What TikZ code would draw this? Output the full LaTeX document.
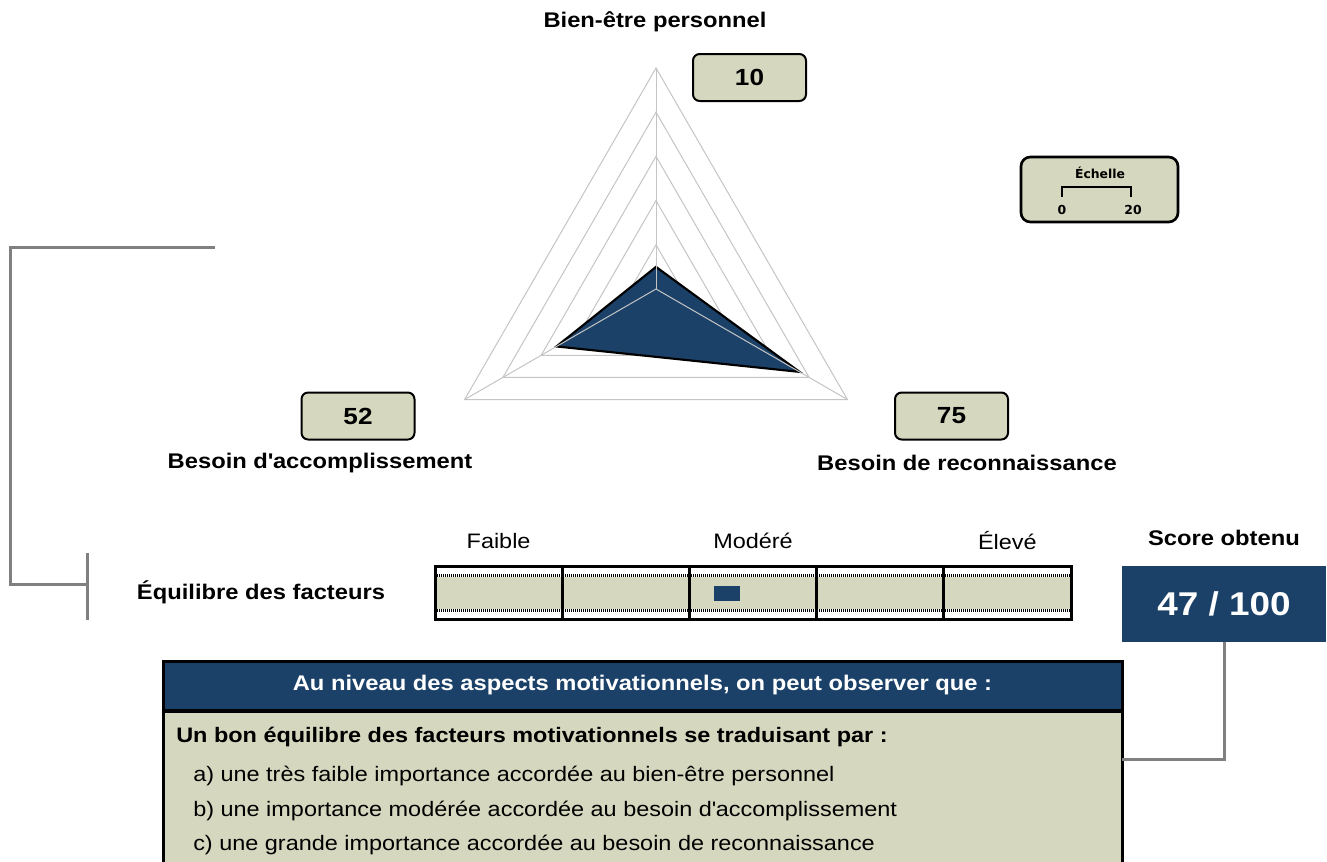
\documentclass[tikz,border=0pt]{standalone}
\usepackage{fontspec}
\setmainfont{Liberation Sans}[FakeStretch=1.12]
\newfontfamily\scalefont{DejaVu Sans}
\usepackage{tikz}
\usetikzlibrary{positioning, calc}
\definecolor{navy}{HTML}{1B4169}
\definecolor{khaki}{HTML}{D5D8BE}
\definecolor{gridgray}{HTML}{C4C4C4}
\definecolor{linkgray}{HTML}{808080}

\begin{document}
\begin{tikzpicture}[x=0.75pt, y=-0.75pt,
    axislabel/.style={font=\bfseries\fontsize{15.9}{19}\selectfont, inner sep=0pt},
    valuebox/.style={draw=black, line width=1.5pt, fill=khaki, rounded corners=5pt,
      minimum width=84.75pt, minimum height=35.25pt, inner sep=0pt,
      font=\bfseries\fontsize{17.5}{20}\selectfont},
    gridline/.style={draw=gridgray, line width=0.75pt},
    radar/.style={fill=navy, draw=black, line width=1.6pt, line join=miter},
    scalebox/.style={draw=black, line width=2pt, fill=khaki, rounded corners=7pt,
      minimum width=117.75pt, minimum height=48.75pt},
    scaletext/.style={font=\scalefont\bfseries\fontsize{9.3}{11}\selectfont, inner sep=0pt},
    levellabel/.style={font=\fontsize{15.7}{19}\selectfont, inner sep=0pt},
    cell/.style={draw=black, line width=2.25pt, minimum width=95.4pt,
      minimum height=40pt, inner sep=0pt},
    dotrule/.style={line width=2.2pt, dash pattern=on 0.75pt off 0.75pt},
    scoremark/.style={fill=navy, minimum width=19.5pt, minimum height=11.25pt, inner sep=0pt},
    scorebox/.style={fill=navy, text=white, minimum width=153pt, minimum height=57pt,
      inner sep=0pt, font=\bfseries\fontsize{24.7}{28}\selectfont},
    infohead/.style={draw=black, line width=2.25pt, fill=navy, text=white,
      minimum width=719.25pt, minimum height=36.75pt, inner sep=0pt,
      font=\bfseries\fontsize{15.9}{19}\selectfont},
    infobody/.style={draw=black, line width=2.25pt, fill=khaki,
      minimum width=719.25pt, minimum height=150pt, inner sep=0pt},
    leadtext/.style={font=\bfseries\fontsize{15.7}{19}\selectfont, inner sep=0pt, anchor=west},
    itemtext/.style={font=\fontsize{15.7}{19}\selectfont, inner sep=0pt, anchor=west},
    linkline/.style={draw=linkgray, line width=2.25pt},
]
\useasboundingbox (0,0) rectangle (1327,861);

% radar chart
\begin{scope}[shift={(656,289)}]
  \foreach \r in {44.2,88.4,132.6,176.8,221}
    \draw[gridline] (-90:\r) -- (30:\r) -- (150:\r) -- cycle;
  \filldraw[radar] (-90:22.1) -- (30:165.75) -- (150:114.9) -- cycle;
  \foreach \a in {-90,30,150}
    \draw[gridline] (0,0) -- (\a:221);
\end{scope}

\node[axislabel] (bienetre) at (655,22) {Bien-être personnel};
\node[axislabel] (accomp) at (320,463) {Besoin d\textquotesingle accomplissement};
\node[axislabel] (reconn) at (967,463) {Besoin de reconnaissance};
\node[valuebox] (val10) at (749.5,77.5) {10};
\node[valuebox] (val52) at (358,416) {52};
\node[valuebox] (val75) at (951.5,416) {75};

% scale
\node[scalebox] (scale) at (1099.5,189.5) {};
\node[scaletext] (echelle) at (1100,173) {Échelle};
\draw[line width=1pt] (1062,197) -- (1062,187) -- (1131,187) -- (1131,197);
\node[scaletext] (zero) at (1062,210) {0};
\node[scaletext] (twenty) at (1133,210) {20};

% balance bar
\fill[khaki] (435,577) rectangle (1071,609);
\draw[dotrule] (435,575.7) -- (1071,575.7);
\draw[dotrule] (435,610.7) -- (1071,610.7);
\foreach \i in {0,...,4}
  \node[cell] (cell\i) at (498.6+\i*127.2,592.7) {};
\node[scoremark] (mark) at (727,593.5) {};
\node[levellabel] (faible) at (cell0 |- 0,541) {Faible};
\node[levellabel] (modere) at (cell2 |- 0,541) {Modéré};
\node[levellabel] (eleve) at (cell4 |- 0,541) {Élevé};
\node[axislabel] (equilibre) at (261,592) {Équilibre des facteurs};

% score
\node[axislabel] (scoretitle) at (1224,538) {Score obtenu};
\node[scorebox] (score) at (1224,604) {47 / 100};

% comment box
\node[infobody, anchor=north] (body) at (642.5,710) {};
\node[infohead] (info) at (642.5,685.5) {Au niveau des aspects motivationnels, on peut observer que :};
\node[leadtext] (lead) at (176,737) {Un bon équilibre des facteurs motivationnels se traduisant par :};
\node[itemtext] (itema) at (193,776) {a) une très faible importance accordée au bien-être personnel};
\node[itemtext] (itemb) at (193,810.5) {b) une importance modérée accordée au besoin d\textquotesingle accomplissement};
\node[itemtext] (itemc) at (193,845) {c) une grande importance accordée au besoin de reconnaissance};

% connectors
\coordinate (lstart) at (215,247);
\coordinate (lcorner) at (10,247);
\coordinate (ljoin) at (87,584);
\coordinate (ticktop) at (87,553);
\coordinate (tickbot) at (87,620);
\coordinate (rjoin) at (1122,759);
\draw[linkline] (lstart) -- (lcorner) |- (ljoin);
\draw[linkline] (ticktop) -- (tickbot);
\draw[linkline] (score.south) |- (rjoin);
\end{tikzpicture}
\end{document}
